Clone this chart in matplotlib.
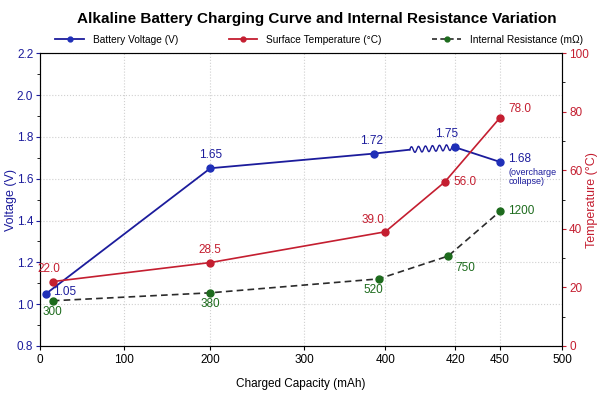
import numpy as np
import matplotlib
matplotlib.use('Agg')
import matplotlib.pyplot as plt
from matplotlib.ticker import MultipleLocator

plt.rcParams['font.family'] = ['Liberation Sans', 'DejaVu Sans']

# data
cap_volt = [7, 200, 386, 420, 450]
voltage = [1.05, 1.65, 1.72, 1.75, 1.68]

cap_temp = [15, 200, 400, 417, 450]
temperature = [22.0, 28.5, 39.0, 56.0, 78.0]

cap_res = [15, 200, 392, 418, 450]
resistance = [300, 380, 520, 750, 1200]

x_ticks = [0, 100, 200, 300, 400, 420, 450, 500]
# the x axis of the original is not evenly spaced: where each tick sits (0..1)
x_tick_frac = [0.0, 0.161, 0.326, 0.506, 0.661, 0.795, 0.881, 1.0]

blue = '#1c1c9c'
blue_m = '#1f2fb8'
red = '#c41e30'
green = '#1d6b1d'
dark = '#2b2b2b'


def fwd(x):
    return np.interp(x, x_ticks, x_tick_frac)


def inv(y):
    return np.interp(y, x_tick_frac, x_ticks)


fig = plt.figure(figsize=(6, 4), dpi=100)
ax = fig.add_axes([0.067, 0.135, 0.87, 0.732])
ax.set_xscale('function', functions=(fwd, inv))
ax.set_xlim(0, 500)
ax.set_ylim(0.8, 2.2)
ax.set_xticks(x_ticks)
ax.set_xticklabels([str(t) for t in x_ticks])
ax.yaxis.set_major_locator(MultipleLocator(0.2))
ax.yaxis.set_minor_locator(MultipleLocator(0.1))
ax.grid(True, color='#d0d0d0', linestyle=':', linewidth=0.8)
ax.tick_params(axis='y', colors=blue, labelsize=8.5, pad=2)
ax.tick_params(axis='x', labelsize=8.5, colors='black', pad=3)
ax.tick_params(axis='both', length=3)
ax.set_ylabel('Voltage (V)', color=blue, fontsize=9)
ax.yaxis.set_label_coords(-0.045, 0.5)
ax.set_xlabel('Charged Capacity (mAh)', fontsize=8.5)
ax.xaxis.set_label_coords(0.5, -0.11)
for s in ax.spines.values():
    s.set_color('#555555')

ax2 = ax.twinx()
ax2.set_ylim(0, 100)
ax2.yaxis.set_major_locator(MultipleLocator(20))
ax2.yaxis.set_minor_locator(MultipleLocator(10))
ax2.tick_params(axis='y', colors=red, labelsize=8.5, length=3, pad=2)
ax2.set_ylabel('Temperature (°C)', color=red, fontsize=9)
ax2.yaxis.set_label_coords(1.045, 0.5)

ax3 = ax.twinx()
ax3.set_ylim(-155, 2790)
ax3.axis('off')

# voltage line: straight, with the wavy "resistor" segment before 420 mAh
ax.plot(cap_volt[:3], voltage[:3], color=blue, lw=1.3, zorder=3)
x_w0, x_w1 = 407, cap_volt[3]
f0, f1 = fwd(x_w0), fwd(x_w1)
xs_line = [cap_volt[2], x_w0]
ys_line = np.interp(xs_line, [cap_volt[2], cap_volt[3]], voltage[2:4])
ax.plot(xs_line, ys_line, color=blue, lw=1.3, zorder=3)
t = np.linspace(0, 1, 200)
xw = inv(f0 + (f1 - f0) * t)
yw = np.interp(xw, [cap_volt[2], cap_volt[3]], voltage[2:4]) + 0.014 * np.sin(2 * np.pi * 6.5 * t)
ax.plot(xw, yw, color=blue, lw=1.0, zorder=3)
ax.plot(cap_volt[3:], voltage[3:], color=blue, lw=1.3, zorder=3)
ax.plot(cap_volt, voltage, 'o', color=blue_m, ms=5, zorder=4)

ax2.plot(cap_temp, temperature, color=red, lw=1.2, marker='o', ms=5,
         markerfacecolor=red, zorder=3)
ax3.plot(cap_res, resistance, color=dark, lw=1.2, ls=(0, (4, 2.5)), marker='o', ms=5,
         markerfacecolor=green, markeredgecolor=green, zorder=3)

lab_size = 8.5

# value labels
volt_off = [(5, 1, 'left'), (0, 5, 'center'), (-2, 5, 'center'), (-6, 5, 'center'), (6, 2, 'left')]
for x, y, (dx, dy, ha) in zip(cap_volt, voltage, volt_off):
    ax.annotate(f'{y:.2f}', (x, y), xytext=(dx, dy), textcoords='offset points',
                ha=ha, va='bottom' if dy > 3 else 'center', color=blue, fontsize=lab_size)
ax.annotate('(overcharge\ncollapse)', (cap_volt[-1], voltage[-1]), xytext=(6, -4),
            textcoords='offset points', ha='left', va='top', color=blue, fontsize=6.5,
            linespacing=1.1)

temp_off = [(-3, 5, 'center', 'bottom'), (0, 5, 'center', 'bottom'), (-9, 4, 'center', 'bottom'),
            (6, 0, 'left', 'center'), (6, 6, 'left', 'center')]
for x, y, (dx, dy, ha, va) in zip(cap_temp, temperature, temp_off):
    ax2.annotate(f'{y:.1f}', (x, y), xytext=(dx, dy), textcoords='offset points',
                 ha=ha, va=va, color=red, fontsize=lab_size)

res_off = [(0, -4, 'center', 'top'), (0, -4, 'center', 'top'), (-4, -4, 'center', 'top'),
           (5, -4, 'left', 'top'), (6, 0, 'left', 'center')]
for x, y, (dx, dy, ha, va) in zip(cap_res, resistance, res_off):
    ax3.annotate(f'{y}', (x, y), xytext=(dx, dy), textcoords='offset points',
                 ha=ha, va=va, color=green, fontsize=lab_size)

# legend
h1, = ax.plot([], [], color=blue, lw=1.3, marker='o', ms=3.5, markerfacecolor=blue_m,
              markeredgecolor=blue_m)
h2, = ax.plot([], [], color=red, lw=1.3, marker='o', ms=3.5)
h3, = ax.plot([], [], color=dark, lw=1.2, ls=(0, (3, 2)), marker='o', ms=3.5,
              markerfacecolor=green, markeredgecolor=green)
fig.legend([h1, h2, h3], ['Battery Voltage (V)', 'Surface Temperature (°C)', 'Internal Resistance (mΩ)'],
           loc='center', bbox_to_anchor=(0.532, 0.9), ncol=3, frameon=False, fontsize=7.3,
           handlelength=2.8, columnspacing=5.0, handletextpad=0.9)

fig.suptitle('Alkaline Battery Charging Curve and Internal Resistance Variation',
             x=0.528, y=0.97, fontsize=11, fontweight='bold')

fig.savefig('out.png', dpi=100)
